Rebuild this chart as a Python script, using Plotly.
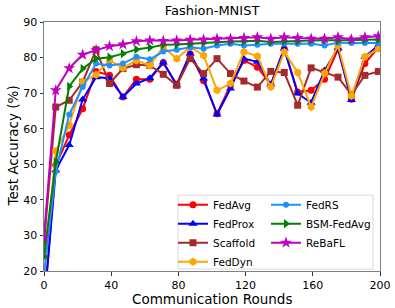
import plotly.graph_objects as go

rounds = [0] + [8 * k - 1 for k in range(1, 26)]

fedavg = [10, 49.7, 58.2, 65.6, 76.1, 75.0, 68.9, 73.9, 73.9, 78.6, 72.5, 81.1, 73.5,
          64.2, 72.2, 79.2, 77.3, 72.4, 82.5, 70.3, 70.8, 73.9, 82.3, 68.3, 78.3, 82.9]
fedprox = [10, 48.3, 55.4, 68.2, 74.5, 74.2, 68.9, 72.7, 74.2, 78.6, 72.2, 81.1, 74.1,
           64.0, 71.3, 79.7, 78.8, 72.4, 82.5, 69.9, 67.3, 76.4, 82.6, 68.1, 80.2, 83.4]
scaffold = [28, 66.1, 68.0, 73.1, 82.2, 72.7, 76.9, 78.0, 77.8, 75.3, 72.2, 79.7, 75.5,
            79.7, 75.5, 73.4, 71.7, 76.1, 75.8, 66.6, 77.1, 75.9, 74.5, 69.6, 75.0, 76.1]
feddyn = [18, 53.7, 61.0, 73.1, 75.2, 79.2, 77.1, 79.2, 77.8, 83.0, 79.7, 83.0, 80.6,
          70.8, 72.7, 81.6, 80.4, 71.7, 81.6, 75.8, 66.1, 75.5, 83.4, 69.2, 80.2, 82.5]
fedrs = [19, 48.0, 64.0, 71.7, 78.3, 77.8, 78.3, 80.2, 79.5, 81.7, 82.2, 82.9, 82.5,
         83.4, 83.9, 83.4, 83.6, 83.9, 83.9, 83.9, 83.9, 83.4, 84.2, 84.1, 84.1, 84.1]
bsm = [24, 50.7, 71.9, 76.9, 79.7, 80.1, 81.1, 82.3, 82.8, 83.6, 83.7, 83.9, 84.1,
       84.5, 84.5, 84.6, 84.7, 84.4, 84.6, 84.6, 84.8, 84.9, 84.8, 84.9, 85.0, 85.1]
rebafl = [29.6, 70.8, 77.0, 80.8, 82.1, 83.2, 83.7, 84.6, 84.8, 84.7, 84.8, 85.0, 85.1,
          85.3, 85.3, 85.5, 85.7, 85.3, 85.7, 85.5, 85.3, 85.3, 85.7, 85.1, 85.7, 86.0]

x_ticks = [0, 40, 80, 120, 160, 200]
y_ticks = [20, 30, 40, 50, 60, 70, 80, 90]

series = [
    ("FedAvg", fedavg, "#ff0000", "circle", 7, "legend"),
    ("FedProx", fedprox, "#0000ff", "triangle-up", 8, "legend"),
    ("Scaffold", scaffold, "#a52a2a", "square", 7, "legend"),
    ("FedDyn", feddyn, "#ffa500", "hexagon", 8, "legend"),
    ("FedRS", fedrs, "#1e90ff", "circle", 6, "legend2"),
    ("BSM-FedAvg", bsm, "#008000", "triangle-right", 8, "legend2"),
    ("ReBaFL", rebafl, "#c000c0", "star", 9, "legend2"),
]

fig = go.Figure()
for name, vals, color, sym, size, leg in series:
    fig.add_trace(go.Scatter(
        x=rounds, y=vals, name=name, mode="lines+markers",
        line=dict(color=color, width=2),
        marker=dict(symbol=sym, size=size, color=color, line=dict(width=0)),
        legend=leg,
    ))

font = "DejaVu Sans, Arial, sans-serif"
H = 249.5
leg_top = (271 - 190) / H
fig.update_layout(
    width=395, height=308,
    margin=dict(l=44, r=15, t=21.5, b=37, autoexpand=False),
    paper_bgcolor="white", plot_bgcolor="white",
    font=dict(family=font, size=11, color="black"),
    title=dict(text="Fashion-MNIST", x=0.5 * (44 + 380) / 395, xanchor="center",
               y=1 - 10 / 308, yanchor="middle", font=dict(size=13, family=font)),
    xaxis=dict(range=[0, 200], tickvals=x_ticks, showgrid=False, zeroline=False,
               showline=True, linecolor="#808080", linewidth=1, mirror=True,
               ticks="outside", ticklen=3.5, tickcolor="#333", automargin=False,
               tickfont=dict(size=11)),
    yaxis=dict(range=[20, 90], tickvals=y_ticks, showgrid=False, zeroline=False,
               showline=True, linecolor="#808080", linewidth=1, mirror=True,
               ticks="outside", ticklen=3.5, tickcolor="#333", automargin=False,
               tickfont=dict(size=11)),
    legend=dict(x=(173 - 44) / 336, y=leg_top, xanchor="left", yanchor="top",
                bgcolor="rgba(0,0,0,0)", font=dict(size=10.5, family=font),
                tracegroupgap=0, itemwidth=30),
    legend2=dict(x=(266 - 44) / 336, y=leg_top, xanchor="left", yanchor="top",
                 bgcolor="rgba(0,0,0,0)", font=dict(size=10.5, family=font),
                 tracegroupgap=0, itemwidth=30),
    shapes=[dict(type="rect", xref="paper", yref="paper",
                 x0=(178 - 44) / 336, x1=(373 - 44) / 336,
                 y0=(271 - 269) / H, y1=(271 - 195) / H,
                 line=dict(color="#d8d8d8", width=1), fillcolor="rgba(255,255,255,0.8)",
                 layer="above")],
    annotations=[
        dict(text="Communication Rounds", xref="paper", yref="paper",
             x=0.5, y=-(299 - 271) / H, xanchor="center", yanchor="middle",
             showarrow=False, font=dict(size=13.5, family=font)),
        dict(text="Test Accuracy (%)", xref="paper", yref="paper",
             x=-(44 - 12) / 336, y=0.5, xanchor="center", yanchor="middle",
             textangle=-90, showarrow=False, font=dict(size=13.5, family=font)),
    ],
)

fig.write_html("out.html", config={"displayModeBar": False},
               post_script="document.body.style.margin='0';")
